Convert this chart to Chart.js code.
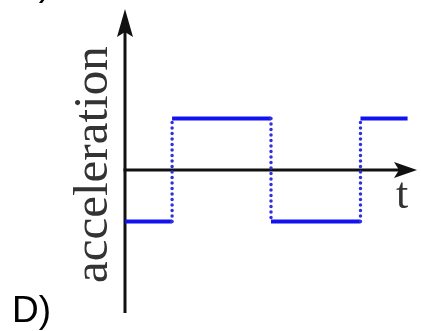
<!DOCTYPE html>
<html>
<head>
<meta charset="utf-8">
<style>
  html, body { margin: 0; padding: 0; background: #ffffff; }
  #wrap { width: 421px; height: 331px; }
</style>
<script src="https://cdn.jsdelivr.net/npm/chart.js@4/dist/chart.umd.min.js"></script>
</head>
<body>
<div id="wrap"><canvas id="c" width="421" height="331"></canvas></div>
<script>
// ---- data ----
const switchTimes = [0, 1, 3.1, 5, 6];   // t where acceleration switches
const levels = [-1, 1, -1, 1];           // acceleration on each interval
const xAxisRange = [0, 6.2];
const yAxisRange = [-2.78, 3.13];
const yLabel = 'acceleration';
const xLabel = 't';
const panelLabel = 'D)';

// build datasets from the arrays
const solidPts = [];
for (let i = 0; i < levels.length; i++) {
  solidPts.push({ x: switchTimes[i], y: levels[i] });
  solidPts.push({ x: switchTimes[i + 1], y: levels[i] });
  solidPts.push({ x: switchTimes[i + 1], y: null });
}
const dottedPts = [];
for (let i = 1; i < levels.length; i++) {
  dottedPts.push({ x: switchTimes[i], y: levels[i - 1] });
  dottedPts.push({ x: switchTimes[i], y: levels[i] });
  dottedPts.push({ x: switchTimes[i], y: null });
}

function arrowHead(ctx, tipX, tipY, dirX, dirY, len, half, notch) {
  const px = -dirY, py = dirX;
  const bx = tipX - dirX * len, by = tipY - dirY * len;
  ctx.beginPath();
  ctx.moveTo(tipX, tipY);
  ctx.lineTo(bx + px * half, by + py * half);
  ctx.lineTo(bx + dirX * notch, by + dirY * notch);
  ctx.lineTo(bx - px * half, by - py * half);
  ctx.closePath();
  ctx.fill();
}

const axesPlugin = {
  id: 'axesPlugin',
  beforeDatasetsDraw(chart) {
    const ctx = chart.ctx;
    const xs = chart.scales.x, ys = chart.scales.y;
    const x0 = xs.getPixelForValue(0);
    const y0 = ys.getPixelForValue(0);
    const xEnd = xs.getPixelForValue(xAxisRange[1]);
    const yTop = ys.getPixelForValue(yAxisRange[1]);
    const yBot = ys.getPixelForValue(yAxisRange[0]);
    ctx.save();
    ctx.strokeStyle = '#111';
    ctx.fillStyle = '#111';
    ctx.lineWidth = 3;
    ctx.beginPath();
    ctx.moveTo(x0, yBot);
    ctx.lineTo(x0, yTop + 14);
    ctx.stroke();
    ctx.beginPath();
    ctx.moveTo(x0 - 1.5, y0);
    ctx.lineTo(xEnd - 12, y0);
    ctx.stroke();
    arrowHead(ctx, x0, yTop, 0, -1, 28, 8, 5);
    arrowHead(ctx, xEnd, y0, 1, 0, 23, 8, 5);
    ctx.restore();
  },
  afterDraw(chart) {
    const ctx = chart.ctx;
    ctx.save();
    ctx.fillStyle = '#333';
    ctx.font = '49px "Liberation Serif", "Times New Roman", serif';
    ctx.textBaseline = 'alphabetic';
    ctx.textAlign = 'left';
    ctx.save();
    ctx.translate(107, 283);
    ctx.rotate(-Math.PI / 2);
    ctx.fillText(yLabel, 0, 0);
    ctx.restore();
    ctx.font = '44px "Liberation Serif", "Times New Roman", serif';
    ctx.fillText(xLabel, 396, 208);
    ctx.fillStyle = '#000';
    ctx.font = '37px "Liberation Sans", Arial, sans-serif';
    ctx.fillText(panelLabel, 12, 322);
    ctx.fillText(')', 38.7, -5);
    ctx.restore();
  }
};

new Chart(document.getElementById('c'), {
  type: 'line',
  data: {
    datasets: [
      {
        data: dottedPts,
        borderColor: '#3030dc',
        borderWidth: 3.5,
        borderDash: [0, 5.5],
        borderCapStyle: 'round',
        pointRadius: 0,
        spanGaps: false,
        fill: false,
        tension: 0
      },
      {
        data: solidPts,
        borderColor: '#1212f0',
        borderWidth: 4,
        borderCapStyle: 'butt',
        pointRadius: 0,
        spanGaps: false,
        fill: false,
        tension: 0
      }
    ]
  },
  options: {
    responsive: false,
    animation: false,
    layout: { padding: { left: 125, right: 4, top: 9, bottom: 18 } },
    plugins: { legend: { display: false }, tooltip: { enabled: false }, title: { display: false } },
    scales: {
      x: { type: 'linear', min: xAxisRange[0], max: xAxisRange[1], display: false },
      y: { type: 'linear', min: yAxisRange[0], max: yAxisRange[1], display: false }
    }
  },
  plugins: [axesPlugin]
});
</script>
</body>
</html>
